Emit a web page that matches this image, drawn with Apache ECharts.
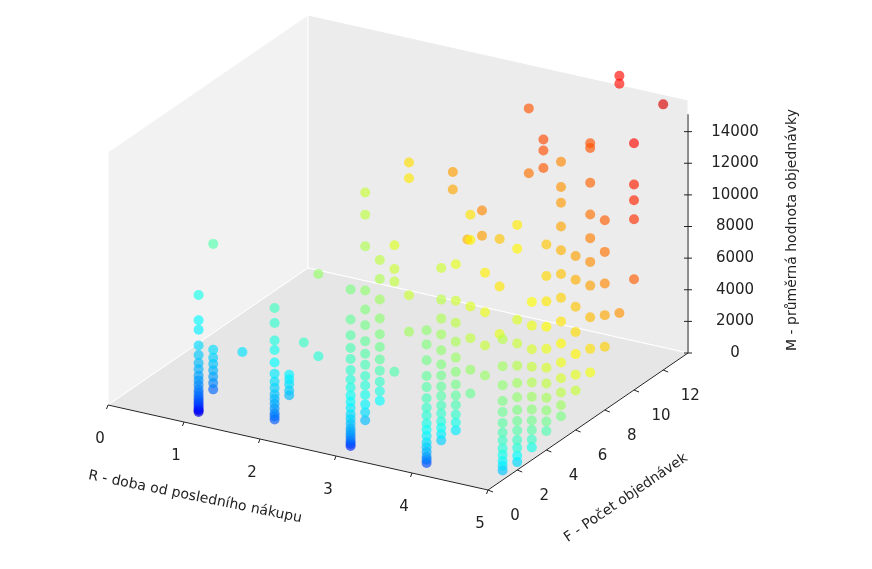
<!DOCTYPE html>
<html>
<head>
<meta charset="utf-8">
<script src="https://cdn.jsdelivr.net/npm/echarts@6/dist/echarts.min.js"></script>
<style>html,body{margin:0;background:#fff}#main{width:872px;height:569px}</style>
</head>
<body>
<div id="main"></div>
<script>
// ticks
var rTicks = [0, 1, 2, 3, 4, 5];
var fTicks = [0, 2, 4, 6, 8, 10, 12];
var mTicks = [0, 2000, 4000, 6000, 8000, 10000, 12000, 14000];

// columns of points: [R, F, [M values]]
var cols = [
  [1, 1, [0, 100, 200, 350, 500, 650, 800, 1000, 1200, 1400, 1700, 2000, 2300, 2700, 3100, 3600, 4200, 5200, 5800, 7400]],
  [1, 2, [800, 1200, 1600, 2000, 2400, 2800, 3300]],
  [1, 4, [1900]],
  [1, 2, [10000]],
  [2, 1, [600, 800, 1000, 1300, 1600, 1900, 2200, 2600, 3000, 3500, 4200, 5000, 5600, 6700, 7650]],
  [2, 2, [1500, 1800, 2200, 2500, 2800]],
  [2, 3, [4200]],
  [2, 4, [2700, 7900]],
  [3, 1, [0, 150, 300, 500, 700, 900, 1100, 1400, 1700, 2000, 2400, 2800, 3200, 3700, 4200, 4800, 5500, 6200, 7000, 8000, 9900]],
  [3, 2, [1000, 1500, 2000, 2600, 3200, 3800, 4500, 5200, 6000, 7000, 8000, 9200, 12000, 14000, 15400]],
  [3, 3, [1600, 2200, 2800, 3500, 4200, 5000, 5800, 6800, 8000, 9300, 10500]],
  [3, 4, [2800, 8500, 9300, 10800]],
  [3, 5, [4700, 7000, 14400, 15400]],
  [3, 8, [11800, 12900]],
  [3, 9, [8000]],
  [3, 10, [7600, 9200]],
  [4, 1, [0, 200, 400, 700, 1000, 1300, 1700, 2100, 2500, 3000, 3500, 4100, 4800, 5500, 6500, 7500, 8400]],
  [4, 2, [800, 1200, 1600, 2000, 2500, 3000, 3600, 4200, 4900, 5600, 6500, 7500, 8500, 9700, 11700]],
  [4, 3, [800, 1300, 1800, 2400, 3000, 3700, 4500, 5400, 6400, 7600, 9000, 11300]],
  [4, 4, [2500, 4000, 6000, 8000, 12200, 13800]],
  [4, 5, [3000, 4900, 7000, 9500]],
  [4, 6, [5000, 8000, 11000]],
  [4, 8, [13900, 18000]],
  [4, 9, [13600, 14700, 15400]],
  [5, 1, [600, 900, 1200, 1600, 2000, 2500, 3000, 3600, 4300, 5000, 6000, 7200, 8900]],
  [5, 2, [500, 900, 1400, 1900, 2500, 3100, 3800, 4600, 5500, 6600, 8000, 9500, 14000, 15500]],
  [5, 3, [800, 1300, 1900, 2500, 3200, 4000, 4900, 5900, 7000, 8500, 10000]],
  [5, 4, [1200, 1800, 2500, 3300, 4200, 5200, 6400, 7800, 9400, 11000, 13000]],
  [5, 5, [1500, 2200, 3000, 3900, 4900, 6100, 7500, 9000, 10500, 12000, 13500, 15000, 16000, 17600]],
  [5, 6, [2500, 3500, 4800, 6200, 7800, 9500, 11000]],
  [5, 7, [3000, 4500, 6500, 8500, 10000, 11500, 13000, 15000, 17200, 17500]],
  [5, 8, [4000, 6000, 8000, 10000, 12000]],
  [5, 9, [5500, 20000, 20500]],
  [5, 10, [7000, 10800, 12000, 13000, 15600]],
  [5, 12, [16800]]
];

var R_MAX = 5, F_MAX = 13.7, M_TOP = 16000;
var O = [108, 405], eR = [76, 17], eF = [14.6, -10], eM = 253 / 16000;
function proj(r, f, m) {
  return [O[0] + r * eR[0] + f * eF[0], O[1] + r * eR[1] + f * eF[1] - m * eM];
}

var pts = [];
cols.forEach(function (c) {
  c[2].forEach(function (m) {
    var score = 0.03 + 0.035 * c[0] + 0.028 * c[1] + 0.11 * Math.log(1 + m / 500);
    pts.push([c[0], c[1], m, score]);
  });
});
pts.sort(function (a, b) { return (a[0] - a[1]) - (b[0] - b[1]); });

// box panes, edges, ticks, labels
var g = [];
function poly(ps, fill) {
  g.push({ type: 'polygon', shape: { points: ps }, style: { fill: fill, stroke: '#ffffff', lineWidth: 1 }, silent: true });
}
poly([proj(0, 0, 0), proj(0, F_MAX, 0), proj(0, F_MAX, M_TOP), proj(0, 0, M_TOP)], '#f2f2f2');
poly([proj(0, F_MAX, 0), proj(R_MAX, F_MAX, 0), proj(R_MAX, F_MAX, M_TOP), proj(0, F_MAX, M_TOP)], '#ececec');
poly([proj(0, 0, 0), proj(R_MAX, 0, 0), proj(R_MAX, F_MAX, 0), proj(0, F_MAX, 0)], '#e6e6e6');
function line(a, b, w) {
  g.push({ type: 'line', shape: { x1: a[0], y1: a[1], x2: b[0], y2: b[1] }, style: { stroke: '#222', lineWidth: w || 1 }, silent: true });
}
function txt(p, s, opt) {
  g.push(Object.assign({ type: 'text', x: p[0], y: p[1], style: { text: s, fill: '#222', font: '15px "DejaVu Sans"', align: 'center', verticalAlign: 'middle' }, silent: true }, opt || {}));
}
line(proj(0, 0, 0), proj(R_MAX, 0, 0));
line(proj(R_MAX, 0, 0), proj(R_MAX, F_MAX, 0));
line(proj(R_MAX, F_MAX, 0), proj(R_MAX, F_MAX, M_TOP - 900));
rTicks.forEach(function (t) {
  var p = proj(t, 0, 0);
  line(p, [p[0] - 1.5, p[1] + 4]);
  txt([p[0] - 8, p[1] + 34], String(t));
});
fTicks.forEach(function (t) {
  var p = proj(R_MAX, t, 0);
  line(p, [p[0] + 5, p[1] + 2]);
  txt([p[0] + 27, p[1] + 26], String(t));
});
mTicks.forEach(function (t) {
  var p = proj(R_MAX, F_MAX, t);
  line([p[0] - 4, p[1]], [p[0] + 4, p[1]]);
  txt([p[0] + 47, p[1]], String(t));
});
txt([195, 497], 'R - doba od posledního nákupu', { rotation: -0.2, style: { text: 'R - doba od posledního nákupu', fill: '#222', font: '14px "DejaVu Sans"', align: 'center', verticalAlign: 'middle' } });
txt([626, 498], 'F - Počet objednávek', { rotation: 0.6, style: { text: 'F - Počet objednávek', fill: '#222', font: '14px "DejaVu Sans"', align: 'center', verticalAlign: 'middle' } });
txt([792, 230], 'M - průměrná hodnota objednávky', { rotation: Math.PI / 2, style: { text: 'M - průměrná hodnota objednávky', fill: '#222', font: '14px "DejaVu Sans"', align: 'center', verticalAlign: 'middle' } });

var chart = echarts.init(document.getElementById('main'));
chart.setOption({
  animation: false,
  graphic: { elements: g },
  visualMap: {
    show: false, dimension: 3, min: 0, max: 1,
    inRange: { color: ['#00007f', '#0000ff', '#007fff', '#00ffff', '#7fff7f', '#ffff00', '#ff7f00', '#ff0000', '#b00000'] }
  },
  series: [{
    type: 'custom',
    coordinateSystem: 'none',
    data: pts,
    z: 10,
    renderItem: function (params, api) {
      var p = proj(api.value(0), api.value(1), api.value(2));
      return { type: 'circle', shape: { cx: p[0], cy: p[1], r: 5 }, style: { fill: api.visual('color'), opacity: 0.65 } };
    }
  }]
});
</script>
</body>
</html>
